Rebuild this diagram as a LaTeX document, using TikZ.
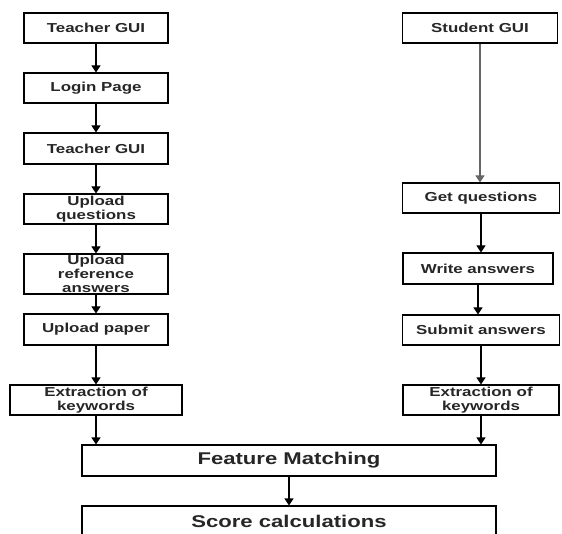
\documentclass[tikz,border=0pt]{standalone}
\usepackage{fontspec}
\newfontfamily\boxfont[FakeStretch=1.3]{Liberation Sans}
\usetikzlibrary{arrows.meta}
\begin{document}
\begin{tikzpicture}[x=1pt,y=-1pt,
  box/.style={draw=black, line width=1.1pt, fill=white, inner sep=0pt, align=center,
    font=\boxfont\bfseries\fontsize{13}{14}\selectfont, text=black!85},
  bigbox/.style={box, font=\boxfont\bfseries\fontsize{17}{18}\selectfont},
  arr/.style={line width=1.1pt, -{Triangle[length=7pt,width=9pt]}}]
\useasboundingbox (0,0) rectangle (562,534);
% left column
\node[box, minimum width=144pt, minimum height=30pt] (t1) at (96,28) {Teacher GUI};
\node[box, minimum width=144pt, minimum height=30pt] (lg) at (96,88) {Login Page};
\node[box, minimum width=144pt, minimum height=31pt] (t2) at (96,148.5) {Teacher GUI};
\node[box, minimum width=144pt, minimum height=30pt] (uq) at (96,209) {Upload\\questions};
\node[box, minimum width=144pt, minimum height=40pt] (ur) at (96,274) {Upload\\reference\\answers};
\node[box, minimum width=144pt, minimum height=31pt] (up) at (96,329.5) {Upload paper};
\node[box, minimum width=172pt, minimum height=30pt] (ex1) at (96,400) {Extraction of\\keywords};
% right column
\node[box, minimum width=155pt, minimum height=30pt] (s1) at (480,28) {Student GUI};
\node[box, minimum width=157pt, minimum height=30pt] (gq) at (481,198) {Get questions};
\node[box, minimum width=150pt, minimum height=31pt] (wa) at (478,268.5) {Write answers};
\node[box, minimum width=157pt, minimum height=30pt] (sa) at (481,330) {Submit answers};
\node[box, minimum width=156pt, minimum height=30pt] (ex2) at (481,400) {Extraction of\\keywords};
% bottom
\node[bigbox, minimum width=414pt, minimum height=31pt] (fm) at (289,460.5) {Feature Matching};
\node[bigbox, minimum width=414pt, minimum height=30pt] (sc) at (289,521) {Score calculations};
% connectors
\draw[arr] (t1) -- (lg);
\draw[arr] (lg) -- (t2);
\draw[arr] (t2) -- (uq);
\draw[arr] (uq) -- (ur);
\draw[arr] (ur) -- (up);
\draw[arr] (up) -- (ex1);
\draw[arr] (ex1.south) -- (ex1.south |- fm.north);
\draw[arr, draw=black!60] (s1.south) -- (s1.south |- gq.north);
\draw[arr] (gq.south) -- (gq.south |- wa.north);
\draw[arr] (wa.south) -- (wa.south |- sa.north);
\draw[arr] (sa.south) -- (sa.south |- ex2.north);
\draw[arr] (ex2.south) -- (ex2.south |- fm.north);
\draw[arr] (fm) -- (sc);
\end{tikzpicture}
\end{document}
